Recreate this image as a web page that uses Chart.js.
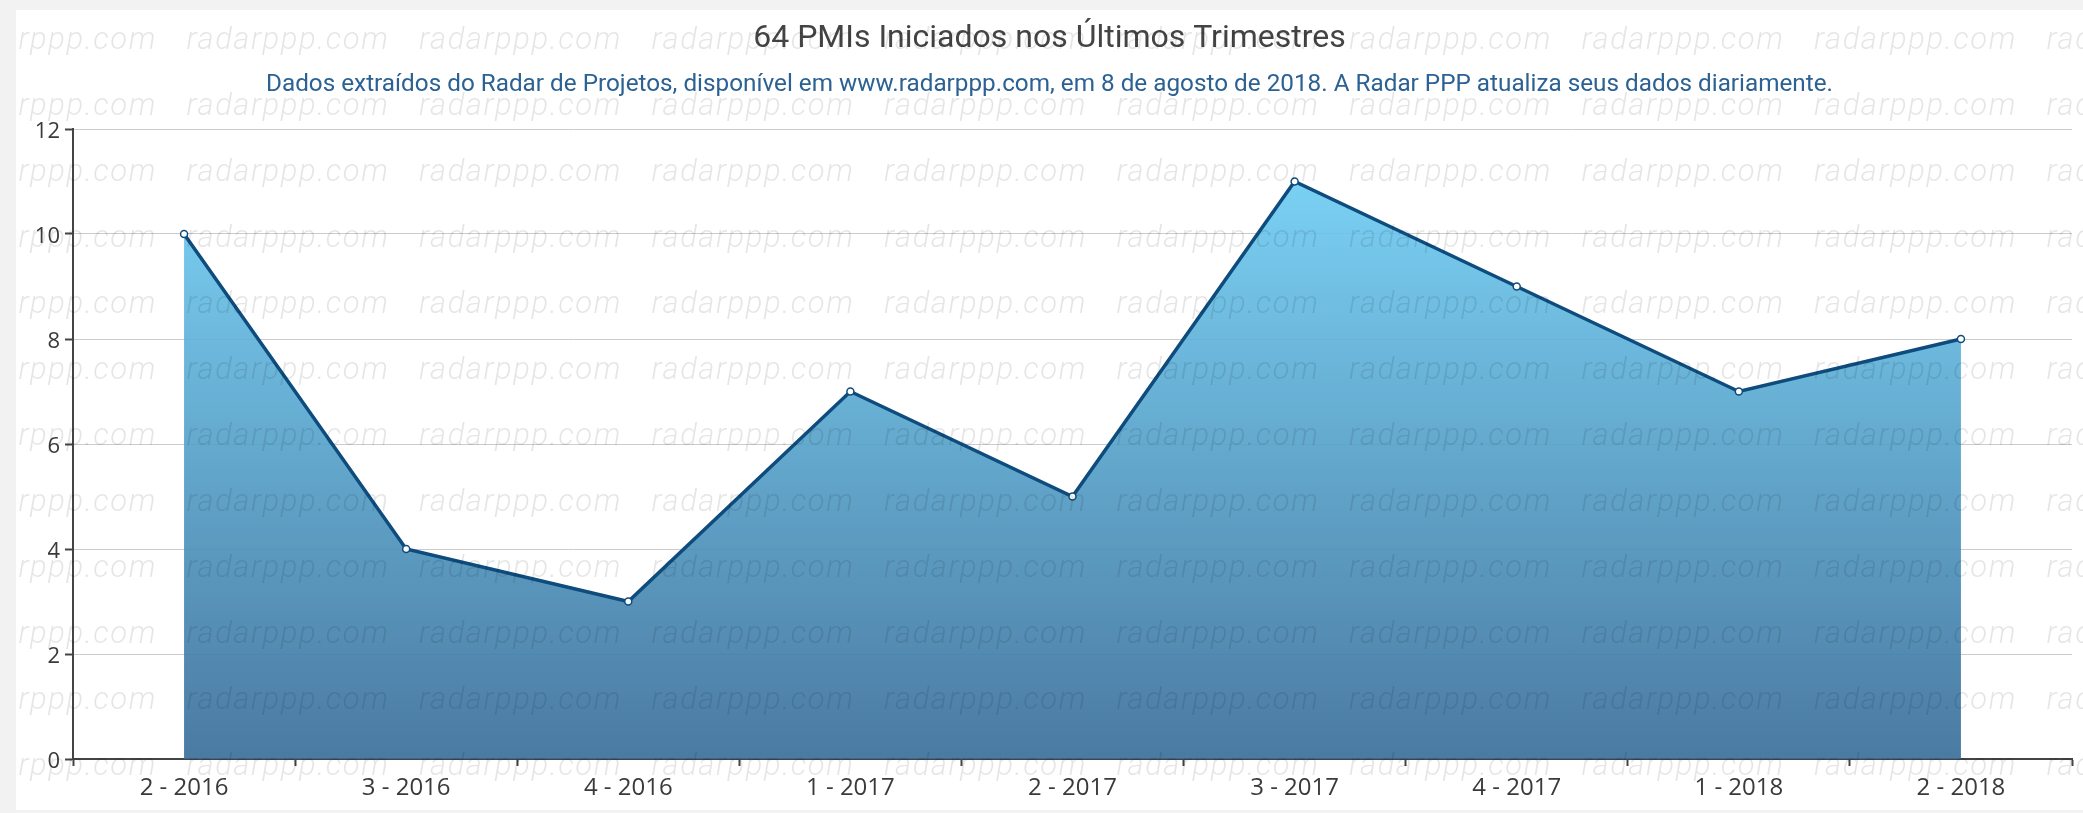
<!DOCTYPE html>
<html>
<head>
<meta charset="utf-8">
<script src="https://cdn.jsdelivr.net/npm/chart.js@4.4.0/dist/chart.umd.min.js"></script>
<style>
  html, body { margin: 0; padding: 0; background: #f2f2f2; }
  #painel { position: absolute; left: 16px; top: 10px; width: 2067px; height: 800px; background: #fff; }
</style>
</head>
<body>
<div id="painel"><canvas id="grafico"></canvas></div>
<script>
// dados
const trimestres = ["2 - 2016", "3 - 2016", "4 - 2016", "1 - 2017", "2 - 2017", "3 - 2017", "4 - 2017", "1 - 2018", "2 - 2018"];
const pmisIniciados = [10, 4, 3, 7, 5, 11, 9, 7, 8];
const yTicks = [0, 2, 4, 6, 8, 10, 12];

const titulo = "64 PMIs Iniciados nos Últimos Trimestres";
const subtitulo = "Dados extraídos do Radar de Projetos, disponível em www.radarppp.com, em 8 de agosto de 2018. A Radar PPP atualiza seus dados diariamente.";
const marcaDagua = "radarppp.com";

// titulo e subtitulo desenhados a mao (subtitulo condensado)
const textos = {
    id: 'textos',
    beforeDraw(chart) {
        const ctx = chart.ctx;
        const cx = chart.width / 2;
        ctx.save();
        ctx.textAlign = 'center';
        ctx.textBaseline = 'middle';
        ctx.fillStyle = '#444';
        ctx.font = '400 32px Roboto';
        ctx.fillText(titulo, cx, 29);

        ctx.font = '400 23px Roboto';
        ctx.fillStyle = '#2b6193';
        const w = ctx.measureText(subtitulo).width;
        const sx = 1567 / w;
        ctx.translate(cx, 75);
        ctx.scale(sx, 1);
        ctx.fillText(subtitulo, 0, 0);
        ctx.restore();
    },
    afterDraw(chart) {
        // marca d'agua por cima de tudo
        const ctx = chart.ctx;
        ctx.save();
        ctx.font = 'italic 300 31px Roboto';
        ctx.letterSpacing = '1.5px';
        ctx.fillStyle = 'rgba(0,0,0,0.1)';
        ctx.textBaseline = 'middle';
        for (let y = 31; y < chart.height + 40; y += 66) {
            for (let x = -62; x < chart.width; x += 232.5) {
                ctx.fillText(marcaDagua, x, y);
            }
        }
        ctx.restore();
    }
};

const ctx = document.getElementById('grafico').getContext('2d');

const grafico = new Chart(ctx, {
    type: 'line',
    data: {
        labels: trimestres,
        datasets: [{
            label: 'PMIs',
            data: pmisIniciados,
            fill: 'origin',
            tension: 0,
            borderColor: '#0e4c7e',
            borderWidth: 3.5,
            pointRadius: 3.5,
            pointBorderWidth: 1.5,
            pointBackgroundColor: '#fff',
            pointBorderColor: '#0e4c7e',
            backgroundColor: function(context) {
                const area = context.chart.chartArea;
                if (!area) return 'rgba(90,160,200,0.9)';
                const g = context.chart.ctx.createLinearGradient(0, area.top, 0, area.bottom);
                g.addColorStop(0, 'rgba(112,212,250,0.9)');
                g.addColorStop(1, 'rgba(55,108,152,0.9)');
                return g;
            }
        }]
    },
    options: {
        responsive: true,
        maintainAspectRatio: false,
        animation: false,
        layout: { padding: { top: 119, right: 11, left: 0, bottom: 0 } },
        plugins: {
            legend: { display: false },
            tooltip: { enabled: false },
            title: { display: false }
        },
        scales: {
            x: {
                offset: true,
                afterFit: s => { s.height = 51; },
                grid: { offset: true, drawOnChartArea: false, tickLength: 7, tickColor: '#444', tickWidth: 2 },
                border: { color: '#444', width: 2 },
                ticks: { color: '#3a3a3a', font: { family: 'Open Sans', size: 24 }, padding: 8, maxRotation: 0, autoSkip: false }
            },
            y: {
                min: 0,
                max: 12,
                afterFit: s => { s.width = 57; },
                afterBuildTicks: s => { s.ticks = yTicks.map(v => ({ value: v })); },
                grid: { color: '#cccccc', lineWidth: 1, tickLength: 8, tickColor: '#444', tickWidth: 2 },
                border: { color: '#444', width: 2 },
                ticks: { color: '#3a3a3a', font: { family: 'Open Sans', size: 22 }, padding: 5, labelOffset: 3 }
            }
        }
    },
    plugins: [textos]
});
</script>
</body>
</html>
